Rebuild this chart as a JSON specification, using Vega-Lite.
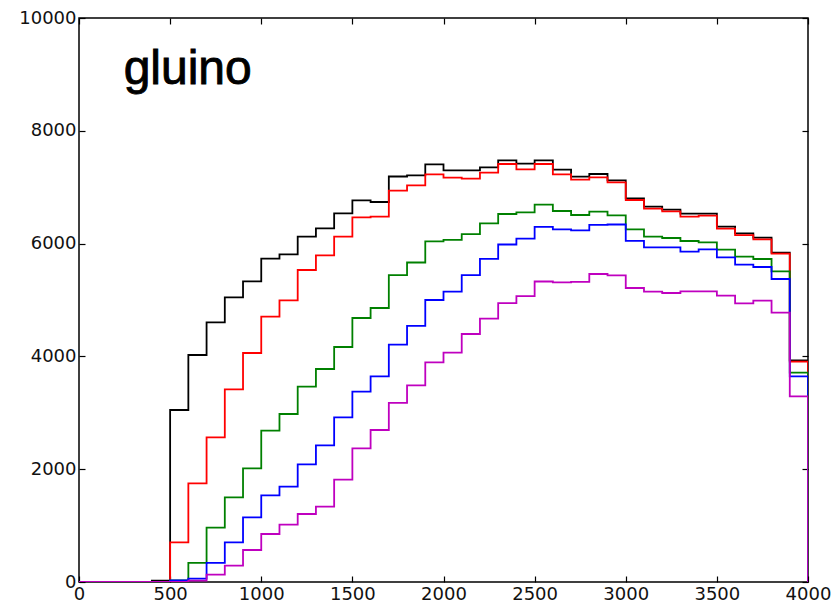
{
  "$schema": "https://vega.github.io/schema/vega-lite/v6.json",
  "autosize": {"type": "none"},
  "padding": {"left": 79, "top": 18, "right": 27, "bottom": 24},
  "width": 729,
  "height": 564,
  "background": "white",
  "config": {
    "view": {"stroke": "black", "strokeWidth": 1.5},
    "axis": {
      "labelFont": "DejaVu Sans",
      "labelFontSize": 18,
      "labelColor": "#111111",
      "domain": false,
      "grid": false,
      "tickColor": "black",
      "tickSize": -6,
      "tickWidth": 1.2
    }
  },
  "datasets": {
    "counts": [
      {"bin": 0, "black": 0, "red": 0, "green": 0, "blue": 0, "magenta": 0},
      {"bin": 100, "black": 0, "red": 0, "green": 0, "blue": 0, "magenta": 0},
      {"bin": 200, "black": 0, "red": 0, "green": 0, "blue": 0, "magenta": 0},
      {"bin": 300, "black": 0, "red": 0, "green": 0, "blue": 0, "magenta": 0},
      {"bin": 400, "black": 25, "red": 0, "green": 0, "blue": 0, "magenta": 0},
      {"bin": 500, "black": 3050, "red": 704, "green": 30, "blue": 30, "magenta": 0},
      {"bin": 600, "black": 4025, "red": 1750, "green": 340, "blue": 60, "magenta": 25},
      {"bin": 700, "black": 4605, "red": 2565, "green": 963, "blue": 340, "magenta": 130},
      {"bin": 800, "black": 5045, "red": 3416, "green": 1501, "blue": 704, "magenta": 290},
      {"bin": 900, "black": 5331, "red": 4060, "green": 2015, "blue": 1147, "magenta": 567},
      {"bin": 1000, "black": 5735, "red": 4704, "green": 2683, "blue": 1537, "magenta": 851},
      {"bin": 1100, "black": 5810, "red": 4994, "green": 2979, "blue": 1690, "magenta": 1016},
      {"bin": 1200, "black": 6125, "red": 5532, "green": 3463, "blue": 2087, "magenta": 1206},
      {"bin": 1300, "black": 6271, "red": 5792, "green": 3777, "blue": 2424, "magenta": 1336},
      {"bin": 1400, "black": 6537, "red": 6123, "green": 4167, "blue": 2920, "magenta": 1814},
      {"bin": 1500, "black": 6767, "red": 6466, "green": 4681, "blue": 3374, "magenta": 2370},
      {"bin": 1600, "black": 6738, "red": 6477, "green": 4858, "blue": 3646, "magenta": 2695},
      {"bin": 1700, "black": 7190, "red": 6940, "green": 5440, "blue": 4208, "magenta": 3175},
      {"bin": 1800, "black": 7210, "red": 7033, "green": 5665, "blue": 4542, "magenta": 3487},
      {"bin": 1900, "black": 7406, "red": 7228, "green": 6040, "blue": 5000, "magenta": 3895},
      {"bin": 2000, "black": 7299, "red": 7169, "green": 6067, "blue": 5148, "magenta": 4066},
      {"bin": 2100, "black": 7299, "red": 7151, "green": 6167, "blue": 5440, "magenta": 4397},
      {"bin": 2200, "black": 7352, "red": 7257, "green": 6359, "blue": 5730, "magenta": 4669},
      {"bin": 2300, "black": 7476, "red": 7411, "green": 6525, "blue": 5984, "magenta": 4944},
      {"bin": 2400, "black": 7417, "red": 7317, "green": 6554, "blue": 6088, "magenta": 5068},
      {"bin": 2500, "black": 7476, "red": 7411, "green": 6690, "blue": 6295, "magenta": 5328},
      {"bin": 2600, "black": 7311, "red": 7228, "green": 6578, "blue": 6253, "magenta": 5311},
      {"bin": 2700, "black": 7187, "red": 7133, "green": 6507, "blue": 6235, "magenta": 5322},
      {"bin": 2800, "black": 7234, "red": 7175, "green": 6566, "blue": 6333, "magenta": 5461},
      {"bin": 2900, "black": 7122, "red": 7087, "green": 6501, "blue": 6339, "magenta": 5437},
      {"bin": 3000, "black": 6803, "red": 6773, "green": 6253, "blue": 6049, "magenta": 5213},
      {"bin": 3100, "black": 6655, "red": 6619, "green": 6123, "blue": 5934, "magenta": 5147},
      {"bin": 3200, "black": 6601, "red": 6572, "green": 6099, "blue": 5934, "magenta": 5124},
      {"bin": 3300, "black": 6531, "red": 6478, "green": 6046, "blue": 5857, "magenta": 5154},
      {"bin": 3400, "black": 6531, "red": 6495, "green": 6022, "blue": 5898, "magenta": 5154},
      {"bin": 3500, "black": 6300, "red": 6265, "green": 5892, "blue": 5757, "magenta": 5077},
      {"bin": 3600, "black": 6182, "red": 6152, "green": 5768, "blue": 5626, "magenta": 4941},
      {"bin": 3700, "black": 6105, "red": 6076, "green": 5727, "blue": 5585, "magenta": 4988},
      {"bin": 3800, "black": 5839, "red": 5821, "green": 5508, "blue": 5372, "magenta": 4775},
      {"bin": 3900, "black": 3930, "red": 3906, "green": 3712, "blue": 3647, "magenta": 3293},
      {"bin": 4000, "black": 0, "red": 0, "green": 0, "blue": 0, "magenta": 0}
    ]
  },
  "layer": [
    {
      "data": {"name": "counts"},
      "transform": [
        {"fold": ["black", "red", "green", "blue", "magenta"], "as": ["series", "count"]}
      ],
      "mark": {"type": "line", "interpolate": "step-after", "strokeWidth": 1.8, "clip": true},
      "encoding": {
        "x": {
          "field": "bin", "type": "quantitative",
          "scale": {"domain": [0, 4000], "nice": false, "zero": false},
          "axis": {"values": [0, 500, 1000, 1500, 2000, 2500, 3000, 3500, 4000], "format": "d", "title": null, "labelPadding": 9, "labelFlush": false}
        },
        "y": {
          "field": "count", "type": "quantitative",
          "scale": {"domain": [0, 10000], "nice": false},
          "axis": {"values": [0, 2000, 4000, 6000, 8000, 10000], "format": "d", "title": null, "labelPadding": 9}
        },
        "color": {
          "field": "series", "type": "nominal",
          "scale": {
            "domain": ["black", "red", "green", "blue", "magenta"],
            "range": ["#000000", "#ff0000", "#008000", "#0000ff", "#bf00bf"]
          },
          "legend": null
        }
      }
    },
    {
      "data": {"values": [{"label": "gluino"}]},
      "mark": {"type": "text", "font": "Liberation Sans", "fontSize": 48, "align": "left", "baseline": "alphabetic", "color": "black", "stroke": "black", "strokeWidth": 0.9},
      "encoding": {
        "x": {"datum": 245, "type": "quantitative", "axis": {"orient": "top", "values": [0, 500, 1000, 1500, 2000, 2500, 3000, 3500, 4000], "labels": false, "title": null}},
        "y": {"datum": 8825, "type": "quantitative", "axis": {"orient": "right", "values": [0, 2000, 4000, 6000, 8000, 10000], "labels": false, "title": null}},
        "text": {"field": "label"}
      }
    }
  ],
  "resolve": {"axis": {"x": "independent", "y": "independent"}}
}
